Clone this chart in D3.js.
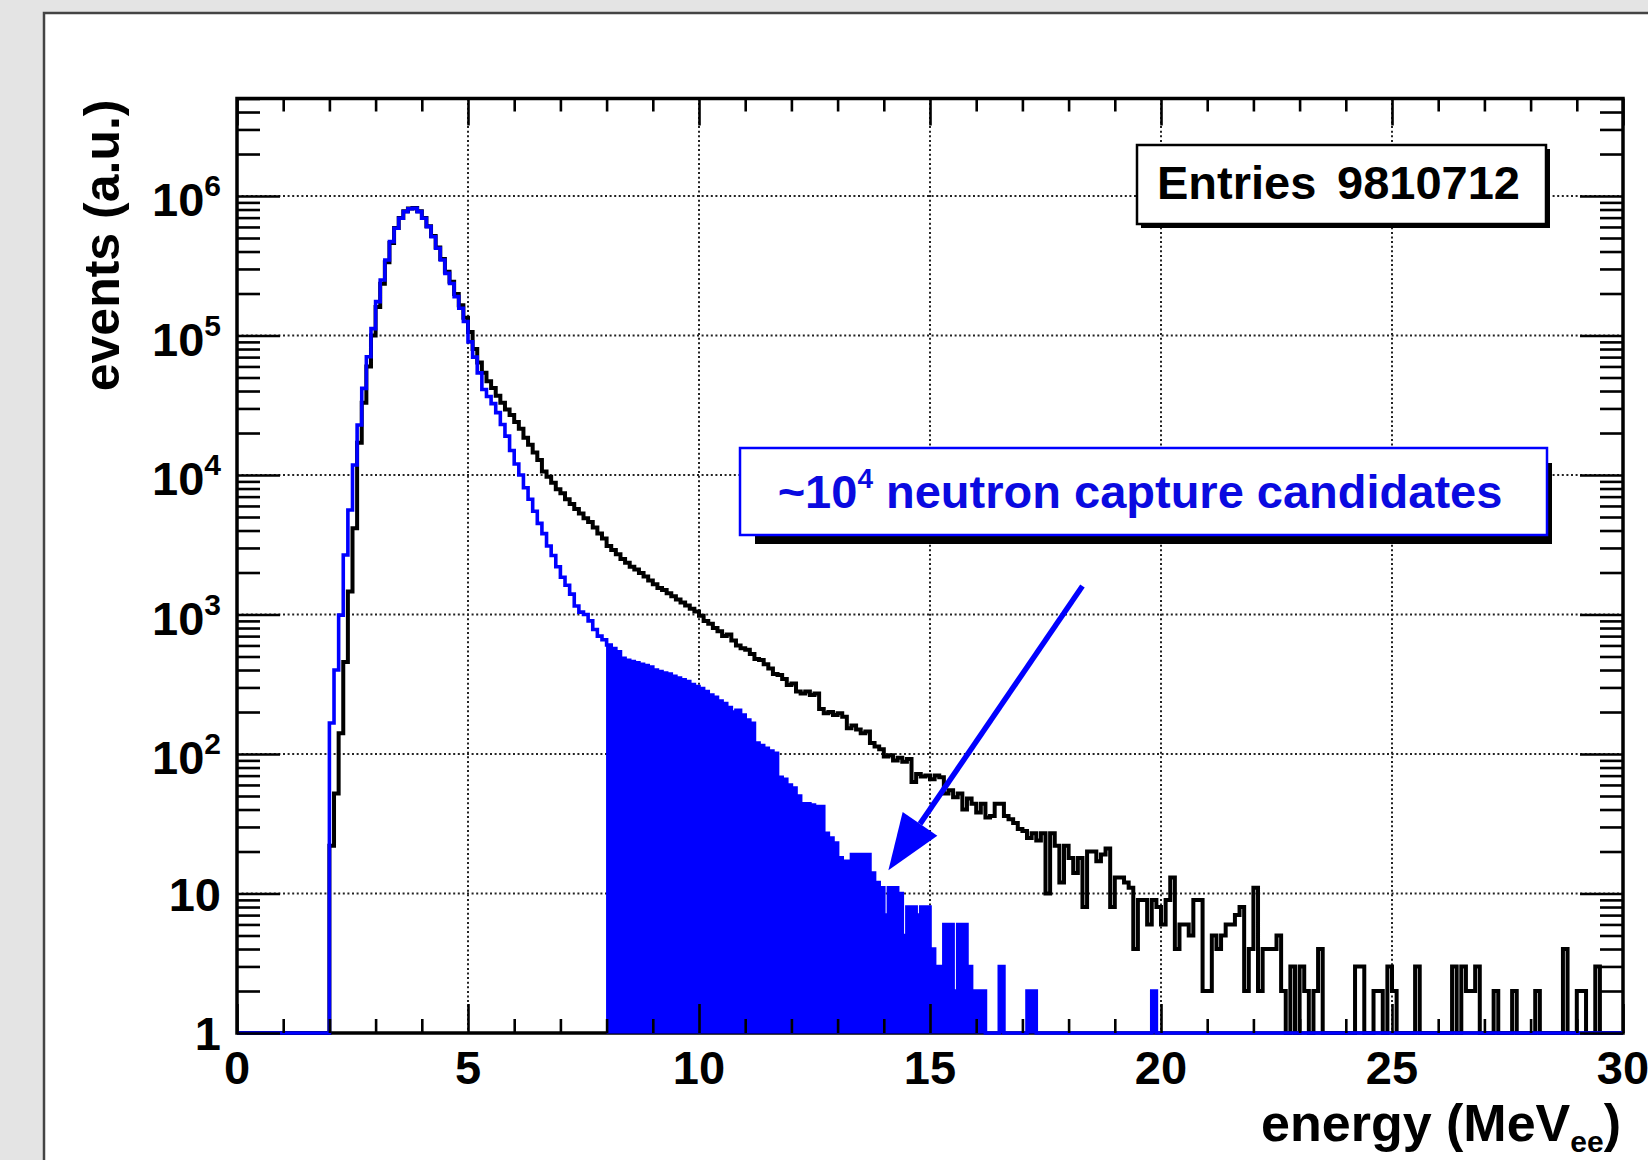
<!DOCTYPE html>
<html>
<head>
<meta charset="utf-8">
<script src="https://cdn.jsdelivr.net/npm/d3@7"></script>
<style>
  body { margin: 0; background: #e4e4e4; }
  text { font-family: "Liberation Sans", Arial, Helvetica, sans-serif; font-weight: bold; }
  .grid { stroke: #222; stroke-width: 2px; stroke-dasharray: 2,2.6; fill: none; }
  .tick line { stroke: #000; stroke-width: 2.6px; }
</style>
</head>
<body>
<script>

// histogram binning (MeV)
var binWidth = 0.1;
var firstBin = 2.0;
var fillFrom = 8.0;

// x ticks / y decades
var xMajor = [0, 5, 10, 15, 20, 25, 30];
var yDecades = [1, 10, 1e2, 1e3, 1e4, 1e5, 1e6];
var yTickBase = ["1", "10", "10", "10", "10", "10", "10"];
var yTickExp = ["", "", "2", "3", "4", "5", "6"];

// all events, one value per 0.1 MeV bin starting at 2.0 MeV
var blackCounts = [
  22, 52, 141, 456, 1460, 4150, 17000, 33000, 60000, 100000,
  160000, 235000, 335000, 460000, 590000, 695000, 776000, 814000, 822000, 777000,
  696000, 607000, 516000, 428000, 354000, 286000, 243000, 198000, 165000, 134000,
  106000, 80000, 64000, 54000, 47000, 42000, 37000, 33000, 29500, 26900,
  24000, 21500, 18500, 16500, 14500, 12800, 10600, 9700, 8800, 7900,
  7400, 6700, 6200, 5700, 5300, 4900, 4600, 4200, 3800, 3500,
  3100, 2900, 2700, 2500, 2350, 2200, 2100, 1980, 1870, 1750,
  1650, 1550, 1500, 1420, 1350, 1280, 1220, 1160, 1100, 1050,
  980, 900, 860, 800, 760, 700, 720, 650, 600, 573,
  560, 520, 480, 472, 440, 410, 375, 368, 345, 312,
  320, 280, 272, 280, 265, 272, 210, 196, 200, 190,
  196, 185, 153, 160, 150, 141, 145, 120, 113, 108,
  96, 98, 90, 94, 88, 92, 63, 72, 69, 70,
  66, 70, 68, 52, 55, 49, 52, 40, 48, 44,
  38, 44, 35, 36, 44, 44, 36, 34, 32, 29,
  28, 25, 27, 24, 27, 10, 27, 22, 12, 22,
  18, 14, 18, 8, 20, 20, 17, 19, 21, 8,
  13, 13, 12, 11, 4, 9, 9, 6, 9, 8,
  6, 9, 13, 4, 6, 6, 5, 9, 9, 2,
  2, 5, 4, 5, 6, 6, 7, 8, 2, 4,
  11, 2, 4, 4, 4, 5, 2, 1, 3, 1,
  3, 2, 1, 2, 4, 0, 0, 0, 0, 0,
  0, 0, 3, 3, 0, 0, 2, 2, 0, 3,
  2, 0, 0, 0, 0, 3, 0, 0, 0, 0,
  0, 0, 0, 3, 1, 3, 2, 2, 3, 0,
  0, 0, 2, 0, 0, 0, 2, 0, 0, 0,
  0, 2, 0, 0, 0, 0, 0, 4, 0, 0,
  2, 2, 0, 0, 3, 0, 0, 0, 0, 0
];

// selected events, same binning
var blueCounts = [
  167, 400, 990, 2670, 5610, 11800, 22800, 41800, 70500, 112000,
  175000, 250000, 348000, 471000, 587000, 692000, 773000, 810000, 818000, 773000,
  692000, 603000, 511000, 422000, 348000, 279000, 236000, 190000, 157000, 126000,
  90000, 70000, 54000, 41000, 36500, 32500, 28000, 23000, 19000, 15000,
  12000, 10000, 8100, 6700, 5500, 4500, 3800, 3100, 2650, 2200,
  1850, 1620, 1400, 1150, 1040, 1000, 900, 780, 700, 660,
  605, 570, 540, 485, 470, 460, 450, 440, 430, 420,
  400, 390, 380, 375, 360, 350, 340, 330, 315, 305,
  295, 280, 265, 255, 240, 230, 215, 200, 206, 190,
  175, 166, 120, 115, 110, 105, 101, 68, 66, 60,
  57, 50, 44, 44, 43, 42, 42, 27, 25, 23,
  18, 17, 17, 19, 19, 19, 19, 14, 12, 11,
  7, 11, 11, 10, 5, 8, 8, 7, 8, 8,
  4, 3, 3, 6, 6, 2, 6, 6, 3, 2,
  2, 2, 0, 0, 0, 3, 0, 0, 0, 0,
  0, 2, 2, 0, 0, 0, 0, 0, 0, 0,
  0, 0, 0, 0, 0, 0, 0, 0, 0, 0,
  0, 0, 0, 0, 0, 0, 0, 0, 2, 0,
  0, 0, 0, 0, 0, 0, 0, 0, 0, 0,
  0, 0, 0, 0, 0, 0, 0, 0, 0, 0,
  0, 0, 0, 0, 0, 0, 0, 0, 0, 0,
  0, 0, 0, 0, 0, 0, 0, 0, 0, 0,
  0, 0, 0, 0, 0, 0, 0, 0, 0, 0,
  0, 0, 0, 0, 0, 0, 0, 0, 0, 0,
  0, 0, 0, 0, 0, 0, 0, 0, 0, 0,
  0, 0, 0, 0, 0, 0, 0, 0, 0, 0,
  0, 0, 0, 0, 0, 0, 0, 0, 0, 0,
  0, 0, 0, 0, 0, 0, 0, 0, 0, 0
];

var entries = "9810712";
var arrowFrom = [18.3, 1600];
var arrowTo = [14.1, 14.7];

var blue = "#0000ff";

var svg = d3.select("body").append("svg")
    .attr("width", 1648)
    .attr("height", 1160);

// canvas panel
svg.append("rect").attr("width", 1648).attr("height", 1160).attr("fill", "#e4e4e4");
svg.append("rect")
    .attr("x", 44).attr("y", 13).attr("width", 1700).attr("height", 1300)
    .attr("fill", "#fff").attr("stroke", "#444").attr("stroke-width", 2.5);

var fL = 237, fR = 1623, fT = 98.5, fB = 1033;

var x = d3.scaleLinear().domain([0, 30]).range([fL, fR]);
var y = d3.scaleLog().domain([1, 5e6]).range([fB, fT]);

// grid
var grid = svg.append("g");
grid.selectAll(".gx").data(xMajor.slice(1, -1)).enter().append("line")
    .attr("class", "grid")
    .attr("x1", function(d) { return x(d); }).attr("x2", function(d) { return x(d); })
    .attr("y1", fT).attr("y2", fB);
grid.selectAll(".gy").data(yDecades.slice(1)).enter().append("line")
    .attr("class", "grid")
    .attr("x1", fL).attr("x2", fR)
    .attr("y1", function(d) { return y(d); }).attr("y2", function(d) { return y(d); });

// frame
svg.append("rect")
    .attr("x", fL).attr("y", fT)
    .attr("width", fR - fL).attr("height", fB - fT)
    .attr("fill", "none").attr("stroke", "#000").attr("stroke-width", 3.5);

// histograms
svg.append("clipPath").attr("id", "clip").append("rect")
    .attr("x", fL).attr("y", fT - 2)
    .attr("width", fR - fL).attr("height", fB - fT + 4);

function steps(counts) {
  var pts = [[0, 1], [firstBin, 1]];
  counts.forEach(function(c, i) {
    var lo = +(firstBin + i * binWidth).toFixed(2);
    var hi = +(lo + binWidth).toFixed(2);
    var v = Math.max(c, 1);
    pts.push([lo, v], [hi, v]);
  });
  pts.push([30, 1]);
  return pts;
}

var line = d3.line()
    .x(function(d) { return x(d[0]); })
    .y(function(d) { return y(d[1]); });

var hg = svg.append("g").attr("clip-path", "url(#clip)");

hg.append("path")
    .attr("d", line(steps(blackCounts)))
    .attr("fill", "none").attr("stroke", "#000").attr("stroke-width", 4)
    .attr("stroke-linejoin", "miter");

hg.append("path")
    .attr("d", line(steps(blueCounts)))
    .attr("fill", "none").attr("stroke", blue).attr("stroke-width", 3.6)
    .attr("stroke-linejoin", "miter");

// filled neutron capture window
var fillPts = steps(blueCounts).filter(function(d) { return d[0] >= fillFrom; });
fillPts.unshift([fillFrom, 1]);
hg.append("path")
    .attr("d", line(fillPts) + "Z")
    .attr("fill", blue).attr("stroke", blue).attr("stroke-width", 1);

// ticks
var xMinor = d3.range(0, 31).filter(function(d) { return d % 5 !== 0; });
var yMinor = [];
yDecades.forEach(function(d) {
  for (var m = 2; m <= 9; m++) if (m * d <= 5e6) yMinor.push(m * d);
});

function noDomain(g) { g.select(".domain").remove(); g.selectAll("text").remove(); }

svg.append("g").attr("transform", "translate(0," + fB + ")")
    .call(d3.axisBottom(x).tickValues(xMajor).tickSize(-29)).call(noDomain);
svg.append("g").attr("transform", "translate(0," + fB + ")")
    .call(d3.axisBottom(x).tickValues(xMinor).tickSize(-14)).call(noDomain);
svg.append("g").attr("transform", "translate(0," + fT + ")")
    .call(d3.axisTop(x).tickValues(xMajor).tickSize(-27)).call(noDomain);
svg.append("g").attr("transform", "translate(0," + fT + ")")
    .call(d3.axisTop(x).tickValues(xMinor).tickSize(-13)).call(noDomain);
svg.append("g").attr("transform", "translate(" + fL + ",0)")
    .call(d3.axisLeft(y).tickValues(yDecades).tickSize(-43)).call(noDomain);
svg.append("g").attr("transform", "translate(" + fL + ",0)")
    .call(d3.axisLeft(y).tickValues(yMinor).tickSize(-23)).call(noDomain);
svg.append("g").attr("transform", "translate(" + fR + ",0)")
    .call(d3.axisRight(y).tickValues(yDecades).tickSize(-43)).call(noDomain);
svg.append("g").attr("transform", "translate(" + fR + ",0)")
    .call(d3.axisRight(y).tickValues(yMinor).tickSize(-23)).call(noDomain);

// tick labels
svg.selectAll(".xl").data(xMajor).enter().append("text")
    .attr("x", function(d) { return x(d); })
    .attr("y", 1084)
    .attr("text-anchor", "middle")
    .style("font-size", "47px")
    .text(function(d) { return d; });

yDecades.forEach(function(d, i) {
  var t = svg.append("text")
      .attr("x", 221)
      .attr("y", y(d) + (yTickExp[i] ? 20 : 17))
      .attr("text-anchor", "end")
      .style("font-size", "47px")
      .text(yTickBase[i]);
  if (yTickExp[i]) {
    t.append("tspan").attr("dy", -20).style("font-size", "30px").text(yTickExp[i]);
  }
});

// axis titles
svg.append("text")
    .attr("transform", "translate(119," + (fT + 1) + ") rotate(-90)")
    .attr("text-anchor", "end")
    .style("font-size", "50px")
    .text("events (a.u.)");

var xt = svg.append("text")
    .attr("x", 1621).attr("y", 1141)
    .attr("text-anchor", "end")
    .style("font-size", "52px")
    .text("energy (MeV");
xt.append("tspan").attr("dy", 11).style("font-size", "30px").text("ee");
xt.append("tspan").attr("dy", -11).text(")");

// stats box
svg.append("rect").attr("x", 1141).attr("y", 149).attr("width", 409).attr("height", 79).attr("fill", "#000");
svg.append("rect").attr("x", 1137).attr("y", 145).attr("width", 409).attr("height", 79)
    .attr("fill", "#fff").attr("stroke", "#000").attr("stroke-width", 2.5);
svg.append("text").attr("x", 1157).attr("y", 199).style("font-size", "47px").text("Entries");
svg.append("text").attr("x", 1520).attr("y", 199).attr("text-anchor", "end")
    .style("font-size", "47px").text(entries);

// annotation box
svg.append("rect").attr("x", 755).attr("y", 463).attr("width", 797).attr("height", 81).attr("fill", "#000");
svg.append("rect").attr("x", 740).attr("y", 448).attr("width", 807).attr("height", 87)
    .attr("fill", "#fff").attr("stroke", blue).attr("stroke-width", 2.5);
var at = svg.append("text")
    .attr("x", 1140).attr("y", 508)
    .attr("text-anchor", "middle")
    .style("font-size", "47px")
    .attr("fill", "#0a0ae0")
    .text("~10");
at.append("tspan").attr("dy", -20).style("font-size", "28px").text("4");
at.append("tspan").attr("dy", 20).text(" neutron capture candidates");

// arrow
var p0 = [x(arrowFrom[0]), y(arrowFrom[1])];
var p1 = [x(arrowTo[0]), y(arrowTo[1])];
var dx = p0[0] - p1[0], dy = p0[1] - p1[1];
var len = Math.sqrt(dx * dx + dy * dy);
var ux = dx / len, uy = dy / len;
var headLen = 56, headHalf = 21;
var bx = p1[0] + ux * headLen, by = p1[1] + uy * headLen;
svg.append("line")
    .attr("x1", p0[0]).attr("y1", p0[1]).attr("x2", bx).attr("y2", by)
    .attr("stroke", blue).attr("stroke-width", 5.5);
svg.append("path")
    .attr("d", "M" + p1[0] + "," + p1[1] +
               "L" + (bx - uy * headHalf) + "," + (by + ux * headHalf) +
               "L" + (bx + uy * headHalf) + "," + (by - ux * headHalf) + "Z")
    .attr("fill", blue);

</script>
</body>
</html>
